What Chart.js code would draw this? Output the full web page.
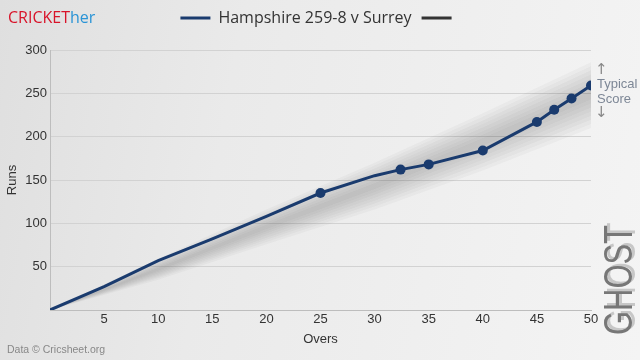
<!DOCTYPE html>
<html>
<head>
<meta charset="utf-8">
<script src="https://cdn.jsdelivr.net/npm/chart.js@4"></script>
<style>
  html, body { margin: 0; padding: 0; }
  body {
    width: 640px; height: 360px; overflow: hidden;
    background: linear-gradient(100deg, #dfdfdf 0%, #eaeaea 35%, #f4f4f4 100%);
  }
  #chart { display: block; }
</style>
</head>
<body>
<canvas id="chart" width="640" height="360"></canvas>
<script>
  // Hampshire innings, cumulative runs by over
  const overs = [0, 5, 10, 15, 20, 25, 30, 32.4, 35, 40, 45, 46.6, 48.2, 50];
  const runs = [0, 27, 57, 82, 108, 135, 155, 162, 168, 184, 217, 231, 244, 259];
  const wicketOvers = [25, 32.4, 35, 40, 45, 46.6, 48.2, 50];

  // typical score band (centre and half width)
  const typicalOvers = [0, 10, 20, 30, 40, 50];
  const typicalMid = [0, 47, 96, 143, 194, 248];
  const typicalSpread = [0, 12, 20, 27, 33, 38];
  const bandLayers = [1, 0.875, 0.75, 0.625, 0.5, 0.375, 0.25, 0.125];

  const xTicks = [5, 10, 15, 20, 25, 30, 35, 40, 45, 50];
  const yTicks = [50, 100, 150, 200, 250, 300];

  const navy = '#1a3b6e';

  const datasets = [
    {
      label: 'Hampshire 259-8 v Surrey',
      data: overs.map((o, i) => ({ x: o, y: runs[i] })),
      borderColor: navy,
      backgroundColor: navy,
      borderWidth: 3,
      pointRadius: ctx => wicketOvers.includes(overs[ctx.dataIndex]) ? 5 : 0,
      pointBackgroundColor: navy,
      pointBorderWidth: 0,
      fill: false,
      tension: 0,
      order: 0
    },
    {
      label: '',
      data: [],
      borderColor: '#333333',
      backgroundColor: '#333333',
      borderWidth: 3,
      order: 0
    }
  ];

  bandLayers.forEach((k, n) => {
    datasets.push({
      label: 'band-low',
      data: typicalOvers.map((o, i) => ({ x: o, y: typicalMid[i] - typicalSpread[i] * k })),
      borderWidth: 0, pointRadius: 0, fill: false, order: 10 + n * 2
    });
    datasets.push({
      label: 'band-high',
      data: typicalOvers.map((o, i) => ({ x: o, y: typicalMid[i] + typicalSpread[i] * k })),
      borderWidth: 0, pointRadius: 0,
      fill: '-1',
      backgroundColor: 'rgba(70,70,70,0.04)',
      order: 10 + n * 2 + 1
    });
  });

  const extras = {
    id: 'extras',
    beforeInit(chart) {
      const fit = chart.legend.fit;
      chart.legend.fit = function () {
        fit.call(this);
        this.height = 50;
      };
    },
    afterDraw(chart) {
      const c = chart.ctx;
      c.save();
      // brand
      c.textBaseline = 'alphabetic';
      c.textAlign = 'left';
      c.font = '16px "Open Sans"';
      c.fillStyle = '#d8142a';
      c.fillText('CRICKET', 8, 23);
      const w = c.measureText('CRICKET').width;
      c.fillStyle = '#2a94d6';
      c.fillText('her', 8 + w, 23);

      // source
      c.font = '10.5px "Liberation Sans"';
      c.fillStyle = '#888';
      c.textBaseline = 'middle';
      c.fillText('Data \u00a9 Cricsheet.org', 7, 350);

      // typical score note
      c.font = '13px "Liberation Sans"';
      c.fillStyle = '#7d8796';
      c.fillText('Typical', 597, 84);
      c.fillText('Score', 597, 99);
      c.fillStyle = '#888';
      c.font = '15px "DejaVu Sans"';
      c.fillText('\u2191', 595, 70);
      c.fillText('\u2193', 595, 113);

      // ghost mark
      c.translate(621, 280);
      c.rotate(-Math.PI / 2);
      c.textAlign = 'center';
      c.textBaseline = 'middle';
      c.font = '40px "Liberation Sans"';
      const gw = c.measureText('GHOST').width;
      c.scale(110 / gw, 1);
      c.fillStyle = 'rgba(180,180,180,0.7)';
      c.fillText('GHOST', 3, 3);
      c.fillStyle = '#777';
      c.fillText('GHOST', 0, 0);
      c.restore();
    }
  };

  new Chart(document.getElementById('chart'), {
    type: 'line',
    data: { datasets },
    options: {
      responsive: false,
      animation: false,
      layout: { padding: 0 },
      plugins: {
        tooltip: { enabled: false },
        legend: {
          position: 'top',
          labels: {
            filter: item => !item.text.startsWith('band'),
            generateLabels: chart => Chart.defaults.plugins.legend.labels.generateLabels(chart)
              .map(l => Object.assign(l, { lineWidth: 3 })),
            usePointStyle: true,
            pointStyle: 'line',
            pointStyleWidth: 30,
            padding: 10,
            color: '#333',
            font: { family: '"Open Sans"', size: 16 }
          }
        }
      },
      scales: {
        x: {
          type: 'linear',
          min: 0, max: 50,
          afterFit: s => { s.height = 50; },
          afterBuildTicks: s => { s.ticks = xTicks.map(v => ({ value: v })); },
          grid: { display: false, drawTicks: false },
          border: { display: true, color: '#bdbdbd', width: 1 },
          ticks: { color: '#333', padding: 2, font: { family: '"Liberation Sans"', size: 13 } },
          title: { display: true, text: 'Overs', color: '#333', padding: { top: 0, bottom: 13 }, font: { family: '"Liberation Sans"', size: 13 } }
        },
        y: {
          min: 0, max: 300,
          afterFit: s => { s.width = 50; },
          afterBuildTicks: s => { s.ticks = yTicks.map(v => ({ value: v })); },
          grid: { color: '#d2d2d2', drawTicks: false },
          border: { display: true, color: '#bdbdbd', width: 1 },
          ticks: { color: '#333', padding: 3, font: { family: '"Liberation Sans"', size: 13 } },
          title: { display: true, text: 'Runs', color: '#333', padding: { top: 5, bottom: 0 }, font: { family: '"Liberation Sans"', size: 13 } }
        },
        yR: {
          position: 'right',
          afterFit: s => { s.width = 49; },
          grid: { display: false },
          border: { display: false },
          ticks: { display: false }
        }
      }
    },
    plugins: [extras]
  });
</script>
</body>
</html>
